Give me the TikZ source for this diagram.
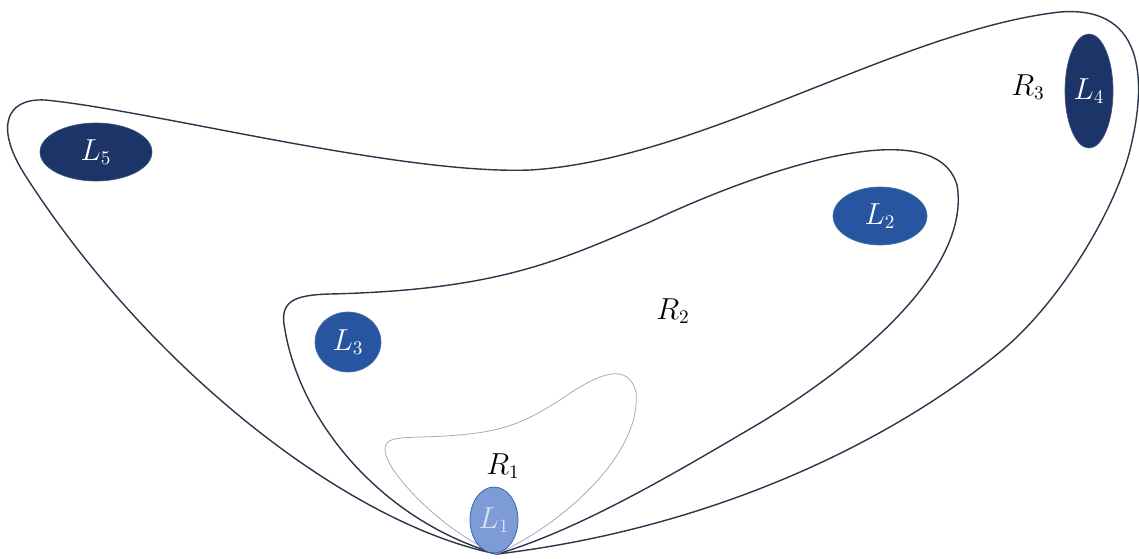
\documentclass[tikz,border=0pt]{standalone}
\usepackage{tikz}
\usetikzlibrary{shapes.geometric}
\definecolor{navy}{RGB}{28,52,104}
\definecolor{midblue}{RGB}{40,85,160}
\definecolor{paleblue}{RGB}{125,155,215}
\definecolor{rimblue}{RGB}{50,90,170}
\definecolor{inkline}{RGB}{45,52,75}
\definecolor{thinline}{RGB}{160,170,195}

\begin{document}
\begin{tikzpicture}[
  x=0.02cm,y=-0.02cm,
  font=\fontsize{16}{19}\selectfont,
  reg/.style={draw=inkline,line width=0.8pt,line join=round},
  regthin/.style={draw=thinline,line width=0.45pt,line join=round},
  lset/.style={ellipse,inner sep=0pt,text=white,draw=#1!85!white,fill=#1,
               line width=0.4pt},
  rlbl/.style={text=black}]

\useasboundingbox (0,0) rectangle (1139,558);

\coordinate (o) at (497,554);

% regions
\draw[reg] (o) .. controls (350,525) and (150,370) .. (25,175)
  .. controls (-5,128) and (5,98) .. (45,100)
  .. controls (150,110) and (400,175) .. (530,170)
  .. controls (700,160) and (900,30) .. (1060,12)
  .. controls (1150,5) and (1145,90) .. (1130,150)
  .. controls (1115,210) and (1060,303) .. (1000,352)
  .. controls (880,450) and (700,530) .. (o);
\draw[reg] (o) .. controls (380,520) and (300,420) .. (285,330)
  .. controls (279,302) and (292,295) .. (330,294)
  .. controls (500,290) and (560,260) .. (650,222)
  .. controls (760,170) and (935,110) .. (957,185)
  .. controls (970,260) and (880,350) .. (760,423)
  .. controls (680,470) and (580,530) .. (o);
\draw[regthin] (o) .. controls (440,530) and (385,470) .. (385,450)
  .. controls (385,438) and (395,438) .. (420,437)
  .. controls (500,435) and (520,425) .. (560,400)
  .. controls (600,372) and (628,362) .. (636,392)
  .. controls (642,450) and (570,520) .. (o);

% sets
\node[lset=navy,minimum width=2.24cm,minimum height=1.16cm] (l5) at (96,152) {$L_5$};
\node[lset=navy,minimum width=0.96cm,minimum height=2.28cm] (l4) at (1089,91) {$L_4$};
\node[lset=midblue,minimum width=1.88cm,minimum height=1.16cm] (l2) at (880,216) {$L_2$};
\node[lset=midblue,minimum width=1.32cm,minimum height=1.2cm] (l3) at (348,342) {$L_3$};
\node[lset=paleblue,draw=rimblue,text=paleblue!30!white,
      minimum width=0.96cm,minimum height=1.32cm] (l1) at (494,520) {$L_1$};

\node[rlbl] (r1) at (503,466) {$R_1$};
\node[rlbl] (r2) at (673,311) {$R_2$};
\node[rlbl] (r3) at (1028,87) {$R_3$};
\end{tikzpicture}
\end{document}
